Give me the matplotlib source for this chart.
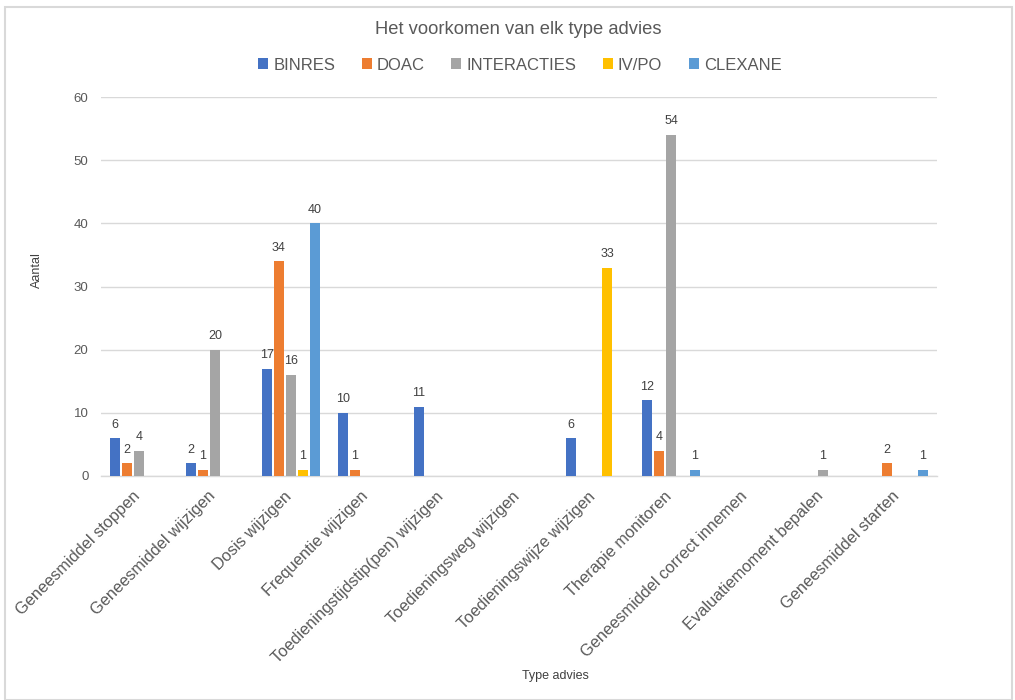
import numpy as np
import matplotlib
matplotlib.use("Agg")
import matplotlib.pyplot as plt
from matplotlib.patches import Rectangle
from matplotlib.transforms import ScaledTranslation

categories = ["Geneesmiddel stoppen", "Geneesmiddel wijzigen", "Dosis wijzigen",
              "Frequentie wijzigen", "Toedieningstijdstip(pen) wijzigen",
              "Toedieningsweg wijzigen", "Toedieningswijze wijzigen",
              "Therapie monitoren", "Geneesmiddel correct innemen",
              "Evaluatiemoment bepalen", "Geneesmiddel starten"]
nan = np.nan
binres = [6, 2, 17, 10, 11, nan, 6, 12, nan, nan, nan]
doac = [2, 1, 34, 1, nan, nan, nan, 4, nan, nan, 2]
interacties = [4, 20, 16, nan, nan, nan, nan, 54, nan, 1, nan]
ivpo = [nan, nan, 1, nan, nan, nan, 33, nan, nan, nan, nan]
clexane = [nan, nan, 40, nan, nan, nan, nan, 1, nan, nan, 1]
series_names = ["BINRES", "DOAC", "INTERACTIES", "IV/PO", "CLEXANE"]
colors = ["#4472C4", "#ED7D31", "#A5A5A5", "#FFC000", "#5B9BD5"]

plt.rcParams['font.family'] = ['Liberation Sans', 'DejaVu Sans']

fig = plt.figure(figsize=(10.15, 7), dpi=100)
ax = fig.add_axes([101/1015, 1-476/700, (937-101)/1015, (476-97)/700])

x = np.arange(len(categories))
step = 0.158
width = 0.125
data = [binres, doac, interacties, ivpo, clexane]
handles = []
for i, (vals, c, name) in enumerate(zip(data, colors, series_names)):
    v = np.array(vals, dtype=float)
    pos = x + (i - 2) * step
    bars = ax.bar(pos, np.nan_to_num(v), width, color=c, label=name, zorder=3)
    handles.append(bars)
    for p, val in zip(pos, v):
        if not np.isnan(val):
            ax.text(p, val + 1.2, f"{int(val)}", ha='center', va='bottom',
                    fontsize=9, color='#404040', zorder=4)

ax.set_xlim(-0.5, len(categories) - 0.5)
ax.set_ylim(0, 60)
ax.set_yticks(range(0, 61, 10))
ax.yaxis.grid(True, color='#D9D9D9', linewidth=1, zorder=0)
ax.tick_params(axis='y', length=0, labelsize=9.5, labelcolor='#595959', pad=9)
ax.tick_params(axis='x', length=0, pad=9)
ax.set_xticks(x)
ax.set_xticklabels(categories, rotation=45, ha='right', rotation_mode='anchor',
                   fontsize=11.8, color='#595959')
shift = ScaledTranslation(-7/100, 0, fig.dpi_scale_trans)
for lbl in ax.get_xticklabels():
    lbl.set_transform(lbl.get_transform() + shift)
for s in ['top', 'right', 'left']:
    ax.spines[s].set_visible(False)
ax.spines['bottom'].set_color('#D9D9D9')
ax.spines['bottom'].set_linewidth(1)

fig.text(37/1015, 1-270/700, "Aantal", rotation=90, ha='center', va='center',
         fontsize=9, color='#404040')
fig.text(555/1015, 1-676/700, "Type advies", ha='center', va='center',
         fontsize=9, color='#404040')
fig.text(518/1015, 1-30/700, "Het voorkomen van elk type advies", ha='center',
         va='center', fontsize=13.2, color='#595959')

leg = fig.legend(handles=handles, loc='center', bbox_to_anchor=(520/1015, 1-65/700),
                 ncol=5, frameon=False, fontsize=12, handlelength=0.6,
                 handleheight=0.6, handletextpad=0.3, columnspacing=1.6,
                 labelcolor='#595959')

fig.patches.append(Rectangle((5/1015, 0), 1007/1015, 1-7/700, transform=fig.transFigure,
                             fill=False, edgecolor='#D9D9D9', linewidth=1.5))

fig.savefig("out.png", dpi=100, facecolor='white')
